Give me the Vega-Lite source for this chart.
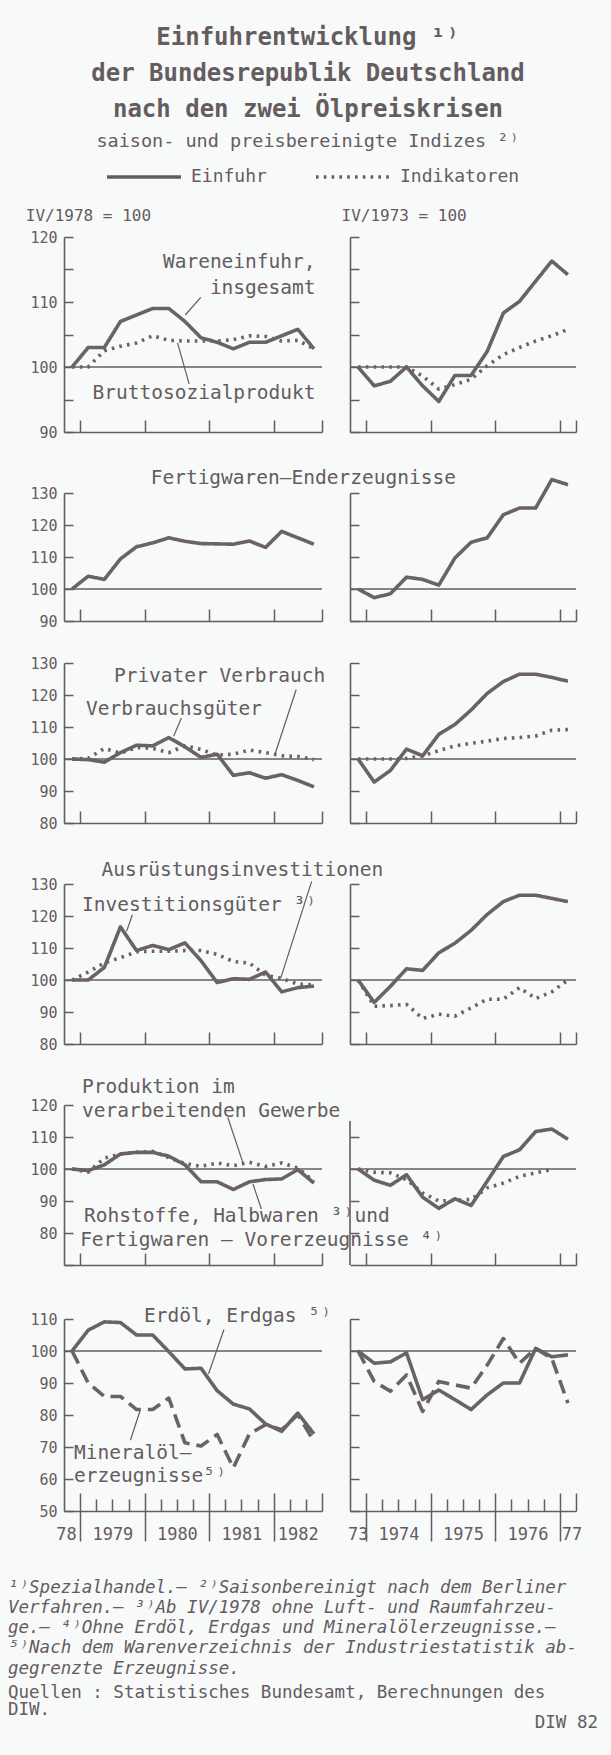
{
"$schema": "https://vega.github.io/schema/vega-lite/v6.json",
"background": "#f8f9f9",
"padding": {"left": 8, "top": 25, "right": 13, "bottom": 16},
"title": {"text": ["Einfuhrentwicklung ¹⁾", "der Bundesrepublik Deutschland", "nach den zwei Ölpreiskrisen"], "subtitle": "saison- und preisbereinigte Indizes ²⁾", "anchor": "middle", "dx": 5, "font": "DejaVu Sans Mono", "fontSize": 24, "fontWeight": "bold", "color": "#645c5f", "lineHeight": 36, "subtitleFont": "DejaVu Sans Mono", "subtitleFontSize": 18.5, "subtitleColor": "#645c5f", "subtitlePadding": 10, "offset": -12},
"datasets": {
"p1l": [
{"zeit":1978.875,"wert":100,"reihe":"Einfuhr"},{"zeit":1979.125,"wert":103,"reihe":"Einfuhr"},{"zeit":1979.375,"wert":103,"reihe":"Einfuhr"},{"zeit":1979.625,"wert":107,"reihe":"Einfuhr"},{"zeit":1979.875,"wert":108,"reihe":"Einfuhr"},{"zeit":1980.125,"wert":109,"reihe":"Einfuhr"},{"zeit":1980.375,"wert":109,"reihe":"Einfuhr"},{"zeit":1980.625,"wert":107,"reihe":"Einfuhr"},{"zeit":1980.875,"wert":104.5,"reihe":"Einfuhr"},{"zeit":1981.125,"wert":103.8,"reihe":"Einfuhr"},{"zeit":1981.375,"wert":102.8,"reihe":"Einfuhr"},{"zeit":1981.625,"wert":103.8,"reihe":"Einfuhr"},{"zeit":1981.875,"wert":103.8,"reihe":"Einfuhr"},{"zeit":1982.125,"wert":104.8,"reihe":"Einfuhr"},{"zeit":1982.375,"wert":105.8,"reihe":"Einfuhr"},{"zeit":1982.625,"wert":102.8,"reihe":"Einfuhr"},
{"zeit":1978.875,"wert":100,"reihe":"Indikatoren"},{"zeit":1979.125,"wert":100,"reihe":"Indikatoren"},{"zeit":1979.375,"wert":102.5,"reihe":"Indikatoren"},{"zeit":1979.625,"wert":103.2,"reihe":"Indikatoren"},{"zeit":1979.875,"wert":103.7,"reihe":"Indikatoren"},{"zeit":1980.125,"wert":104.8,"reihe":"Indikatoren"},{"zeit":1980.375,"wert":104.1,"reihe":"Indikatoren"},{"zeit":1980.625,"wert":104,"reihe":"Indikatoren"},{"zeit":1980.875,"wert":104,"reihe":"Indikatoren"},{"zeit":1981.125,"wert":104,"reihe":"Indikatoren"},{"zeit":1981.375,"wert":104.2,"reihe":"Indikatoren"},{"zeit":1981.625,"wert":104.8,"reihe":"Indikatoren"},{"zeit":1981.875,"wert":104.7,"reihe":"Indikatoren"},{"zeit":1982.125,"wert":104,"reihe":"Indikatoren"},{"zeit":1982.375,"wert":104.1,"reihe":"Indikatoren"},{"zeit":1982.625,"wert":102.8,"reihe":"Indikatoren"}],
"p1r": [
{"zeit":1973.875,"wert":100,"reihe":"Einfuhr"},{"zeit":1974.125,"wert":97.1,"reihe":"Einfuhr"},{"zeit":1974.375,"wert":97.8,"reihe":"Einfuhr"},{"zeit":1974.625,"wert":100,"reihe":"Einfuhr"},{"zeit":1974.875,"wert":97.1,"reihe":"Einfuhr"},{"zeit":1975.125,"wert":94.7,"reihe":"Einfuhr"},{"zeit":1975.375,"wert":98.7,"reihe":"Einfuhr"},{"zeit":1975.625,"wert":98.7,"reihe":"Einfuhr"},{"zeit":1975.875,"wert":102.4,"reihe":"Einfuhr"},{"zeit":1976.125,"wert":108.3,"reihe":"Einfuhr"},{"zeit":1976.375,"wert":110.1,"reihe":"Einfuhr"},{"zeit":1976.625,"wert":113.2,"reihe":"Einfuhr"},{"zeit":1976.875,"wert":116.3,"reihe":"Einfuhr"},{"zeit":1977.125,"wert":114.2,"reihe":"Einfuhr"},
{"zeit":1973.875,"wert":100,"reihe":"Indikatoren"},{"zeit":1974.125,"wert":100,"reihe":"Indikatoren"},{"zeit":1974.375,"wert":100,"reihe":"Indikatoren"},{"zeit":1974.625,"wert":100,"reihe":"Indikatoren"},{"zeit":1974.875,"wert":98.6,"reihe":"Indikatoren"},{"zeit":1975.125,"wert":96.6,"reihe":"Indikatoren"},{"zeit":1975.375,"wert":97.3,"reihe":"Indikatoren"},{"zeit":1975.625,"wert":98.1,"reihe":"Indikatoren"},{"zeit":1975.875,"wert":100.2,"reihe":"Indikatoren"},{"zeit":1976.125,"wert":101.9,"reihe":"Indikatoren"},{"zeit":1976.375,"wert":103,"reihe":"Indikatoren"},{"zeit":1976.625,"wert":104,"reihe":"Indikatoren"},{"zeit":1976.875,"wert":104.8,"reihe":"Indikatoren"},{"zeit":1977.125,"wert":105.8,"reihe":"Indikatoren"}],
"p2l": [
{"zeit":1978.875,"wert":100,"reihe":"Einfuhr"},{"zeit":1979.125,"wert":104,"reihe":"Einfuhr"},{"zeit":1979.375,"wert":103,"reihe":"Einfuhr"},{"zeit":1979.625,"wert":109.4,"reihe":"Einfuhr"},{"zeit":1979.875,"wert":113.2,"reihe":"Einfuhr"},{"zeit":1980.125,"wert":114.4,"reihe":"Einfuhr"},{"zeit":1980.375,"wert":116,"reihe":"Einfuhr"},{"zeit":1980.625,"wert":114.9,"reihe":"Einfuhr"},{"zeit":1980.875,"wert":114.2,"reihe":"Einfuhr"},{"zeit":1981.125,"wert":114.1,"reihe":"Einfuhr"},{"zeit":1981.375,"wert":114,"reihe":"Einfuhr"},{"zeit":1981.625,"wert":115,"reihe":"Einfuhr"},{"zeit":1981.875,"wert":113,"reihe":"Einfuhr"},{"zeit":1982.125,"wert":118,"reihe":"Einfuhr"},{"zeit":1982.375,"wert":116,"reihe":"Einfuhr"},{"zeit":1982.625,"wert":114,"reihe":"Einfuhr"}],
"p2r": [
{"zeit":1973.875,"wert":100,"reihe":"Einfuhr"},{"zeit":1974.125,"wert":97.3,"reihe":"Einfuhr"},{"zeit":1974.375,"wert":98.5,"reihe":"Einfuhr"},{"zeit":1974.625,"wert":103.7,"reihe":"Einfuhr"},{"zeit":1974.875,"wert":103,"reihe":"Einfuhr"},{"zeit":1975.125,"wert":101.2,"reihe":"Einfuhr"},{"zeit":1975.375,"wert":109.7,"reihe":"Einfuhr"},{"zeit":1975.625,"wert":114.6,"reihe":"Einfuhr"},{"zeit":1975.875,"wert":116,"reihe":"Einfuhr"},{"zeit":1976.125,"wert":123.2,"reihe":"Einfuhr"},{"zeit":1976.375,"wert":125.3,"reihe":"Einfuhr"},{"zeit":1976.625,"wert":125.3,"reihe":"Einfuhr"},{"zeit":1976.875,"wert":134.2,"reihe":"Einfuhr"},{"zeit":1977.125,"wert":132.6,"reihe":"Einfuhr"}],
"p3l": [
{"zeit":1978.875,"wert":100,"reihe":"Einfuhr"},{"zeit":1979.125,"wert":99.8,"reihe":"Einfuhr"},{"zeit":1979.375,"wert":99,"reihe":"Einfuhr"},{"zeit":1979.625,"wert":102,"reihe":"Einfuhr"},{"zeit":1979.875,"wert":104.3,"reihe":"Einfuhr"},{"zeit":1980.125,"wert":104.1,"reihe":"Einfuhr"},{"zeit":1980.375,"wert":106.7,"reihe":"Einfuhr"},{"zeit":1980.625,"wert":103.8,"reihe":"Einfuhr"},{"zeit":1980.875,"wert":100.5,"reihe":"Einfuhr"},{"zeit":1981.125,"wert":101.5,"reihe":"Einfuhr"},{"zeit":1981.375,"wert":94.9,"reihe":"Einfuhr"},{"zeit":1981.625,"wert":95.7,"reihe":"Einfuhr"},{"zeit":1981.875,"wert":94,"reihe":"Einfuhr"},{"zeit":1982.125,"wert":95.1,"reihe":"Einfuhr"},{"zeit":1982.375,"wert":93.3,"reihe":"Einfuhr"},{"zeit":1982.625,"wert":91.3,"reihe":"Einfuhr"},
{"zeit":1978.875,"wert":100,"reihe":"Indikatoren"},{"zeit":1979.125,"wert":100.2,"reihe":"Indikatoren"},{"zeit":1979.375,"wert":103.3,"reihe":"Indikatoren"},{"zeit":1979.625,"wert":101.8,"reihe":"Indikatoren"},{"zeit":1979.875,"wert":103.6,"reihe":"Indikatoren"},{"zeit":1980.125,"wert":103.3,"reihe":"Indikatoren"},{"zeit":1980.375,"wert":102,"reihe":"Indikatoren"},{"zeit":1980.625,"wert":104.1,"reihe":"Indikatoren"},{"zeit":1980.875,"wert":103,"reihe":"Indikatoren"},{"zeit":1981.125,"wert":101.2,"reihe":"Indikatoren"},{"zeit":1981.375,"wert":101.5,"reihe":"Indikatoren"},{"zeit":1981.625,"wert":102.8,"reihe":"Indikatoren"},{"zeit":1981.875,"wert":102,"reihe":"Indikatoren"},{"zeit":1982.125,"wert":101,"reihe":"Indikatoren"},{"zeit":1982.375,"wert":100.8,"reihe":"Indikatoren"},{"zeit":1982.625,"wert":99.8,"reihe":"Indikatoren"}],
"p3r": [
{"zeit":1973.875,"wert":100,"reihe":"Einfuhr"},{"zeit":1974.125,"wert":92.8,"reihe":"Einfuhr"},{"zeit":1974.375,"wert":96.4,"reihe":"Einfuhr"},{"zeit":1974.625,"wert":103.1,"reihe":"Einfuhr"},{"zeit":1974.875,"wert":101,"reihe":"Einfuhr"},{"zeit":1975.125,"wert":107.7,"reihe":"Einfuhr"},{"zeit":1975.375,"wert":110.8,"reihe":"Einfuhr"},{"zeit":1975.625,"wert":115.3,"reihe":"Einfuhr"},{"zeit":1975.875,"wert":120.5,"reihe":"Einfuhr"},{"zeit":1976.125,"wert":124.2,"reihe":"Einfuhr"},{"zeit":1976.375,"wert":126.5,"reihe":"Einfuhr"},{"zeit":1976.625,"wert":126.5,"reihe":"Einfuhr"},{"zeit":1976.875,"wert":125.5,"reihe":"Einfuhr"},{"zeit":1977.125,"wert":124.3,"reihe":"Einfuhr"},
{"zeit":1973.875,"wert":100,"reihe":"Indikatoren"},{"zeit":1974.125,"wert":100,"reihe":"Indikatoren"},{"zeit":1974.375,"wert":100,"reihe":"Indikatoren"},{"zeit":1974.625,"wert":100.2,"reihe":"Indikatoren"},{"zeit":1974.875,"wert":101,"reihe":"Indikatoren"},{"zeit":1975.125,"wert":102.6,"reihe":"Indikatoren"},{"zeit":1975.375,"wert":104.1,"reihe":"Indikatoren"},{"zeit":1975.625,"wert":104.9,"reihe":"Indikatoren"},{"zeit":1975.875,"wert":105.6,"reihe":"Indikatoren"},{"zeit":1976.125,"wert":106.4,"reihe":"Indikatoren"},{"zeit":1976.375,"wert":106.7,"reihe":"Indikatoren"},{"zeit":1976.625,"wert":107.2,"reihe":"Indikatoren"},{"zeit":1976.875,"wert":109,"reihe":"Indikatoren"},{"zeit":1977.125,"wert":109.2,"reihe":"Indikatoren"}],
"p4l": [
{"zeit":1978.875,"wert":100,"reihe":"Einfuhr"},{"zeit":1979.125,"wert":100,"reihe":"Einfuhr"},{"zeit":1979.375,"wert":103.9,"reihe":"Einfuhr"},{"zeit":1979.625,"wert":116.6,"reihe":"Einfuhr"},{"zeit":1979.875,"wert":109.2,"reihe":"Einfuhr"},{"zeit":1980.125,"wert":110.8,"reihe":"Einfuhr"},{"zeit":1980.375,"wert":109.5,"reihe":"Einfuhr"},{"zeit":1980.625,"wert":111.6,"reihe":"Einfuhr"},{"zeit":1980.875,"wert":106,"reihe":"Einfuhr"},{"zeit":1981.125,"wert":99.2,"reihe":"Einfuhr"},{"zeit":1981.375,"wert":100.4,"reihe":"Einfuhr"},{"zeit":1981.625,"wert":100.2,"reihe":"Einfuhr"},{"zeit":1981.875,"wert":102.5,"reihe":"Einfuhr"},{"zeit":1982.125,"wert":96.3,"reihe":"Einfuhr"},{"zeit":1982.375,"wert":97.6,"reihe":"Einfuhr"},{"zeit":1982.625,"wert":98.1,"reihe":"Einfuhr"},
{"zeit":1978.875,"wert":100,"reihe":"Indikatoren"},{"zeit":1979.125,"wert":102.5,"reihe":"Indikatoren"},{"zeit":1979.375,"wert":105.3,"reihe":"Indikatoren"},{"zeit":1979.625,"wert":107,"reihe":"Indikatoren"},{"zeit":1979.875,"wert":108.8,"reihe":"Indikatoren"},{"zeit":1980.125,"wert":109,"reihe":"Indikatoren"},{"zeit":1980.375,"wert":109,"reihe":"Indikatoren"},{"zeit":1980.625,"wert":109.2,"reihe":"Indikatoren"},{"zeit":1980.875,"wert":109.2,"reihe":"Indikatoren"},{"zeit":1981.125,"wert":108,"reihe":"Indikatoren"},{"zeit":1981.375,"wert":105.8,"reihe":"Indikatoren"},{"zeit":1981.625,"wert":105.3,"reihe":"Indikatoren"},{"zeit":1981.875,"wert":101.5,"reihe":"Indikatoren"},{"zeit":1982.125,"wert":100.5,"reihe":"Indikatoren"},{"zeit":1982.375,"wert":98.7,"reihe":"Indikatoren"},{"zeit":1982.625,"wert":98.5,"reihe":"Indikatoren"}],
"p4r": [
{"zeit":1973.875,"wert":100,"reihe":"Einfuhr"},{"zeit":1974.125,"wert":93,"reihe":"Einfuhr"},{"zeit":1974.375,"wert":98,"reihe":"Einfuhr"},{"zeit":1974.625,"wert":103.5,"reihe":"Einfuhr"},{"zeit":1974.875,"wert":103,"reihe":"Einfuhr"},{"zeit":1975.125,"wert":108.5,"reihe":"Einfuhr"},{"zeit":1975.375,"wert":111.5,"reihe":"Einfuhr"},{"zeit":1975.625,"wert":115.5,"reihe":"Einfuhr"},{"zeit":1975.875,"wert":120.5,"reihe":"Einfuhr"},{"zeit":1976.125,"wert":124.5,"reihe":"Einfuhr"},{"zeit":1976.375,"wert":126.5,"reihe":"Einfuhr"},{"zeit":1976.625,"wert":126.5,"reihe":"Einfuhr"},{"zeit":1976.875,"wert":125.5,"reihe":"Einfuhr"},{"zeit":1977.125,"wert":124.5,"reihe":"Einfuhr"},
{"zeit":1973.875,"wert":100,"reihe":"Indikatoren"},{"zeit":1974.125,"wert":91.8,"reihe":"Indikatoren"},{"zeit":1974.375,"wert":92,"reihe":"Indikatoren"},{"zeit":1974.625,"wert":92.4,"reihe":"Indikatoren"},{"zeit":1974.875,"wert":88,"reihe":"Indikatoren"},{"zeit":1975.125,"wert":89.3,"reihe":"Indikatoren"},{"zeit":1975.375,"wert":88.7,"reihe":"Indikatoren"},{"zeit":1975.625,"wert":91.3,"reihe":"Indikatoren"},{"zeit":1975.875,"wert":94,"reihe":"Indikatoren"},{"zeit":1976.125,"wert":94,"reihe":"Indikatoren"},{"zeit":1976.375,"wert":97.6,"reihe":"Indikatoren"},{"zeit":1976.625,"wert":94.2,"reihe":"Indikatoren"},{"zeit":1976.875,"wert":96.3,"reihe":"Indikatoren"},{"zeit":1977.125,"wert":100,"reihe":"Indikatoren"}],
"p5l": [
{"zeit":1978.875,"wert":100,"reihe":"Einfuhr"},{"zeit":1979.125,"wert":99.5,"reihe":"Einfuhr"},{"zeit":1979.375,"wert":101.3,"reihe":"Einfuhr"},{"zeit":1979.625,"wert":104.7,"reihe":"Einfuhr"},{"zeit":1979.875,"wert":105.2,"reihe":"Einfuhr"},{"zeit":1980.125,"wert":105.2,"reihe":"Einfuhr"},{"zeit":1980.375,"wert":104,"reihe":"Einfuhr"},{"zeit":1980.625,"wert":101.3,"reihe":"Einfuhr"},{"zeit":1980.875,"wert":96,"reihe":"Einfuhr"},{"zeit":1981.125,"wert":96,"reihe":"Einfuhr"},{"zeit":1981.375,"wert":93.6,"reihe":"Einfuhr"},{"zeit":1981.625,"wert":96,"reihe":"Einfuhr"},{"zeit":1981.875,"wert":96.7,"reihe":"Einfuhr"},{"zeit":1982.125,"wert":96.9,"reihe":"Einfuhr"},{"zeit":1982.375,"wert":99.8,"reihe":"Einfuhr"},{"zeit":1982.625,"wert":95.6,"reihe":"Einfuhr"},
{"zeit":1978.875,"wert":100,"reihe":"Indikatoren"},{"zeit":1979.125,"wert":99,"reihe":"Indikatoren"},{"zeit":1979.375,"wert":103.4,"reihe":"Indikatoren"},{"zeit":1979.625,"wert":104.7,"reihe":"Indikatoren"},{"zeit":1979.875,"wert":105.2,"reihe":"Indikatoren"},{"zeit":1980.125,"wert":105.5,"reihe":"Indikatoren"},{"zeit":1980.375,"wert":103.6,"reihe":"Indikatoren"},{"zeit":1980.625,"wert":101.7,"reihe":"Indikatoren"},{"zeit":1980.875,"wert":100.8,"reihe":"Indikatoren"},{"zeit":1981.125,"wert":101.9,"reihe":"Indikatoren"},{"zeit":1981.375,"wert":101,"reihe":"Indikatoren"},{"zeit":1981.625,"wert":102.1,"reihe":"Indikatoren"},{"zeit":1981.875,"wert":100.8,"reihe":"Indikatoren"},{"zeit":1982.125,"wert":101.9,"reihe":"Indikatoren"},{"zeit":1982.375,"wert":100.3,"reihe":"Indikatoren"},{"zeit":1982.625,"wert":96.2,"reihe":"Indikatoren"}],
"p5r": [
{"zeit":1973.875,"wert":100,"reihe":"Einfuhr"},{"zeit":1974.125,"wert":96.5,"reihe":"Einfuhr"},{"zeit":1974.375,"wert":94.9,"reihe":"Einfuhr"},{"zeit":1974.625,"wert":98.2,"reihe":"Einfuhr"},{"zeit":1974.875,"wert":91.2,"reihe":"Einfuhr"},{"zeit":1975.125,"wert":87.7,"reihe":"Einfuhr"},{"zeit":1975.375,"wert":90.7,"reihe":"Einfuhr"},{"zeit":1975.625,"wert":88.6,"reihe":"Einfuhr"},{"zeit":1975.875,"wert":96.2,"reihe":"Einfuhr"},{"zeit":1976.125,"wert":103.9,"reihe":"Einfuhr"},{"zeit":1976.375,"wert":106,"reihe":"Einfuhr"},{"zeit":1976.625,"wert":111.7,"reihe":"Einfuhr"},{"zeit":1976.875,"wert":112.5,"reihe":"Einfuhr"},{"zeit":1977.125,"wert":109.3,"reihe":"Einfuhr"},
{"zeit":1973.875,"wert":100,"reihe":"Indikatoren"},{"zeit":1974.125,"wert":99,"reihe":"Indikatoren"},{"zeit":1974.375,"wert":98.8,"reihe":"Indikatoren"},{"zeit":1974.625,"wert":96.7,"reihe":"Indikatoren"},{"zeit":1974.875,"wert":92.5,"reihe":"Indikatoren"},{"zeit":1975.125,"wert":90,"reihe":"Indikatoren"},{"zeit":1975.375,"wert":90.2,"reihe":"Indikatoren"},{"zeit":1975.625,"wert":90.5,"reihe":"Indikatoren"},{"zeit":1975.875,"wert":94.1,"reihe":"Indikatoren"},{"zeit":1976.125,"wert":95.6,"reihe":"Indikatoren"},{"zeit":1976.375,"wert":97.7,"reihe":"Indikatoren"},{"zeit":1976.625,"wert":98.8,"reihe":"Indikatoren"},{"zeit":1976.875,"wert":99.8,"reihe":"Indikatoren"}],
"p6l": [
{"zeit":1978.875,"wert":100,"reihe":"Einfuhr","serie":"Erdöl, Erdgas"},{"zeit":1979.125,"wert":106.5,"reihe":"Einfuhr","serie":"Erdöl, Erdgas"},{"zeit":1979.375,"wert":109.1,"reihe":"Einfuhr","serie":"Erdöl, Erdgas"},{"zeit":1979.625,"wert":108.9,"reihe":"Einfuhr","serie":"Erdöl, Erdgas"},{"zeit":1979.875,"wert":105,"reihe":"Einfuhr","serie":"Erdöl, Erdgas"},{"zeit":1980.125,"wert":105,"reihe":"Einfuhr","serie":"Erdöl, Erdgas"},{"zeit":1980.375,"wert":99.8,"reihe":"Einfuhr","serie":"Erdöl, Erdgas"},{"zeit":1980.625,"wert":94.4,"reihe":"Einfuhr","serie":"Erdöl, Erdgas"},{"zeit":1980.875,"wert":94.6,"reihe":"Einfuhr","serie":"Erdöl, Erdgas"},{"zeit":1981.125,"wert":87.6,"reihe":"Einfuhr","serie":"Erdöl, Erdgas"},{"zeit":1981.375,"wert":83.4,"reihe":"Einfuhr","serie":"Erdöl, Erdgas"},{"zeit":1981.625,"wert":81.9,"reihe":"Einfuhr","serie":"Erdöl, Erdgas"},{"zeit":1981.875,"wert":77.2,"reihe":"Einfuhr","serie":"Erdöl, Erdgas"},{"zeit":1982.125,"wert":74.9,"reihe":"Einfuhr","serie":"Erdöl, Erdgas"},{"zeit":1982.375,"wert":80.6,"reihe":"Einfuhr","serie":"Erdöl, Erdgas"},{"zeit":1982.625,"wert":74.1,"reihe":"Einfuhr","serie":"Erdöl, Erdgas"},
{"zeit":1978.875,"wert":100,"reihe":"Einfuhr","serie":"Mineralölerzeugnisse"},{"zeit":1979.125,"wert":90,"reihe":"Einfuhr","serie":"Mineralölerzeugnisse"},{"zeit":1979.375,"wert":85.8,"reihe":"Einfuhr","serie":"Mineralölerzeugnisse"},{"zeit":1979.625,"wert":85.8,"reihe":"Einfuhr","serie":"Mineralölerzeugnisse"},{"zeit":1979.875,"wert":81.7,"reihe":"Einfuhr","serie":"Mineralölerzeugnisse"},{"zeit":1980.125,"wert":81.7,"reihe":"Einfuhr","serie":"Mineralölerzeugnisse"},{"zeit":1980.375,"wert":85.3,"reihe":"Einfuhr","serie":"Mineralölerzeugnisse"},{"zeit":1980.625,"wert":71.3,"reihe":"Einfuhr","serie":"Mineralölerzeugnisse"},{"zeit":1980.875,"wert":70.3,"reihe":"Einfuhr","serie":"Mineralölerzeugnisse"},{"zeit":1981.125,"wert":73.9,"reihe":"Einfuhr","serie":"Mineralölerzeugnisse"},{"zeit":1981.375,"wert":63.5,"reihe":"Einfuhr","serie":"Mineralölerzeugnisse"},{"zeit":1981.625,"wert":74.1,"reihe":"Einfuhr","serie":"Mineralölerzeugnisse"},{"zeit":1981.875,"wert":77,"reihe":"Einfuhr","serie":"Mineralölerzeugnisse"},{"zeit":1982.125,"wert":75.4,"reihe":"Einfuhr","serie":"Mineralölerzeugnisse"},{"zeit":1982.375,"wert":80.1,"reihe":"Einfuhr","serie":"Mineralölerzeugnisse"},{"zeit":1982.625,"wert":71.8,"reihe":"Einfuhr","serie":"Mineralölerzeugnisse"}],
"p6r": [
{"zeit":1973.875,"wert":100,"reihe":"Einfuhr","serie":"Erdöl, Erdgas"},{"zeit":1974.125,"wert":96.2,"reihe":"Einfuhr","serie":"Erdöl, Erdgas"},{"zeit":1974.375,"wert":96.6,"reihe":"Einfuhr","serie":"Erdöl, Erdgas"},{"zeit":1974.625,"wert":99.4,"reihe":"Einfuhr","serie":"Erdöl, Erdgas"},{"zeit":1974.875,"wert":84.8,"reihe":"Einfuhr","serie":"Erdöl, Erdgas"},{"zeit":1975.125,"wert":87.8,"reihe":"Einfuhr","serie":"Erdöl, Erdgas"},{"zeit":1975.375,"wert":84.8,"reihe":"Einfuhr","serie":"Erdöl, Erdgas"},{"zeit":1975.625,"wert":81.7,"reihe":"Einfuhr","serie":"Erdöl, Erdgas"},{"zeit":1975.875,"wert":86.3,"reihe":"Einfuhr","serie":"Erdöl, Erdgas"},{"zeit":1976.125,"wert":90,"reihe":"Einfuhr","serie":"Erdöl, Erdgas"},{"zeit":1976.375,"wert":90,"reihe":"Einfuhr","serie":"Erdöl, Erdgas"},{"zeit":1976.625,"wert":100.8,"reihe":"Einfuhr","serie":"Erdöl, Erdgas"},{"zeit":1976.875,"wert":98.2,"reihe":"Einfuhr","serie":"Erdöl, Erdgas"},{"zeit":1977.125,"wert":98.8,"reihe":"Einfuhr","serie":"Erdöl, Erdgas"},
{"zeit":1973.875,"wert":100,"reihe":"Einfuhr","serie":"Mineralölerzeugnisse"},{"zeit":1974.125,"wert":90.5,"reihe":"Einfuhr","serie":"Mineralölerzeugnisse"},{"zeit":1974.375,"wert":87.4,"reihe":"Einfuhr","serie":"Mineralölerzeugnisse"},{"zeit":1974.625,"wert":92.5,"reihe":"Einfuhr","serie":"Mineralölerzeugnisse"},{"zeit":1974.875,"wert":81.1,"reihe":"Einfuhr","serie":"Mineralölerzeugnisse"},{"zeit":1975.125,"wert":90.5,"reihe":"Einfuhr","serie":"Mineralölerzeugnisse"},{"zeit":1975.375,"wert":89.4,"reihe":"Einfuhr","serie":"Mineralölerzeugnisse"},{"zeit":1975.625,"wert":88.4,"reihe":"Einfuhr","serie":"Mineralölerzeugnisse"},{"zeit":1975.875,"wert":95.6,"reihe":"Einfuhr","serie":"Mineralölerzeugnisse"},{"zeit":1976.125,"wert":103.9,"reihe":"Einfuhr","serie":"Mineralölerzeugnisse"},{"zeit":1976.375,"wert":96.2,"reihe":"Einfuhr","serie":"Mineralölerzeugnisse"},{"zeit":1976.625,"wert":100.8,"reihe":"Einfuhr","serie":"Mineralölerzeugnisse"},{"zeit":1976.875,"wert":97.7,"reihe":"Einfuhr","serie":"Mineralölerzeugnisse"},{"zeit":1977.125,"wert":83.7,"reihe":"Einfuhr","serie":"Mineralölerzeugnisse"}]
},
"columns": 3,
"bounds": "flush",
"spacing": {"row": 0, "column": 28},
"concat": [
 {"width": 28, "height": 256, "data": {"values": []}, "mark": "point"},
 {"width": 258, "height": 195, "layer": [
  {"data": {"values": [{}]}, "mark": "rule", "encoding": {"y": {"datum": 100}}},
  {"data": {"name": "p1l"}, "mark": "line", "encoding": {
    "x": {"field": "zeit", "type": "quantitative", "scale": {"domain": [1978.75, 1982.75], "nice": false, "zero": false}, "axis": {"values": [1979, 1980, 1981, 1982, 1982.75], "tickCount": 40, "labels": false, "tickSize": -12, "title": null}},
    "y": {"field": "wert", "type": "quantitative", "scale": {"domain": [90, 120], "nice": false, "zero": false}, "axis": {"values": [90, 95, 100, 105, 110, 115, 120], "tickCount": 40, "labelExpr": "datum.value % 10 === 0 ? datum.label : ''", "labelOverlap": false, "tickSize": -9, "labelPadding": 16, "title": "IV/1978 = 100", "titleAngle": 0, "titleAlign": "left", "titleBaseline": "middle", "titleX": -38.7, "titleY": -21.7}},
    "strokeDash": {"field": "reihe", "type": "nominal", "scale": {"domain": ["Einfuhr", "Indikatoren"], "range": [[1, 0], [2.6, 5.2]]},
      "legend": {"title": null, "orient": "none", "legendX": 97, "legendY": -99, "direction": "horizontal", "symbolType": "stroke", "symbolSize": 5476, "symbolStrokeWidth": 3.6, "symbolStrokeColor": "#645c5f", "labelFont": "DejaVu Sans Mono", "labelFontSize": 18, "labelColor": "#645c5f", "labelOffset": 8, "labelLimit": 300, "columnPadding": 47, "padding": 0, "symbolOffset": 0}}
  }},
  {"data": {"values": [{}]}, "mark": {"type": "text", "align": "right", "text": "Wareneinfuhr,"}, "encoding": {"x": {"datum": 1982.65}, "y": {"datum": 116.1}}},
  {"data": {"values": [{}]}, "mark": {"type": "text", "align": "right", "text": "insgesamt"}, "encoding": {"x": {"datum": 1982.65}, "y": {"datum": 112.1}}},
  {"data": {"values": [{}]}, "mark": {"type": "text", "align": "right", "text": "Bruttosozialprodukt"}, "encoding": {"x": {"datum": 1982.65}, "y": {"datum": 96.0}}},
  {"data": {"values": [{}]}, "mark": {"type": "rule", "strokeWidth": 1.2}, "encoding": {"x": {"datum": 1980.87}, "y": {"datum": 110.7}, "x2": {"datum": 1980.63}, "y2": {"datum": 108.0}}},
  {"data": {"values": [{}]}, "mark": {"type": "rule", "strokeWidth": 1.2}, "encoding": {"x": {"datum": 1980.51}, "y": {"datum": 103.7}, "x2": {"datum": 1980.69}, "y2": {"datum": 97.4}}}
 ]},
 {"width": 226, "height": 195, "layer": [
  {"data": {"values": [{}]}, "mark": "rule", "encoding": {"y": {"datum": 100}}},
  {"data": {"name": "p1r"}, "mark": "line", "encoding": {
    "x": {"field": "zeit", "type": "quantitative", "scale": {"domain": [1973.75, 1977.25], "nice": false, "zero": false}, "axis": {"values": [1974, 1975, 1976, 1977, 1977.25], "tickCount": 40, "labels": false, "tickSize": -12, "title": null}},
    "y": {"field": "wert", "type": "quantitative", "scale": {"domain": [90, 120], "nice": false, "zero": false}, "axis": {"values": [90, 95, 100, 105, 110, 115, 120], "tickCount": 40, "labels": false, "tickSize": -9, "title": "IV/1973 = 100", "titleAngle": 0, "titleAlign": "left", "titleBaseline": "middle", "titleX": -9, "titleY": -21.7}},
    "strokeDash": {"field": "reihe", "type": "nominal", "scale": {"domain": ["Einfuhr", "Indikatoren"], "range": [[1, 0], [2.6, 5.2]]}}
  }}
 ]},
 {"width": 28, "height": 170, "data": {"values": []}, "mark": "point"},
 {"width": 258, "height": 128, "layer": [
  {"data": {"values": [{}]}, "mark": "rule", "encoding": {"y": {"datum": 100}}},
  {"data": {"name": "p2l"}, "mark": "line", "encoding": {
    "x": {"field": "zeit", "type": "quantitative", "scale": {"domain": [1978.75, 1982.75], "nice": false, "zero": false}, "axis": {"values": [1979, 1980, 1981, 1982, 1982.75], "tickCount": 40, "labels": false, "tickSize": -12, "title": null}},
    "y": {"field": "wert", "type": "quantitative", "scale": {"domain": [90, 130], "nice": false, "zero": false}, "axis": {"values": [90, 100, 110, 120, 130], "tickCount": 40, "labelOverlap": false, "tickSize": -9, "labelPadding": 16, "title": null}},
    "strokeDash": {"field": "reihe", "type": "nominal", "scale": {"domain": ["Einfuhr", "Indikatoren"], "range": [[1, 0], [2.6, 5.2]]}}
  }},
  {"data": {"values": [{}]}, "mark": {"type": "text", "align": "center", "text": "Fertigwaren–Enderzeugnisse"}, "encoding": {"x": {"datum": 1982.46}, "y": {"datum": 134.7}}}
 ]},
 {"width": 226, "height": 128, "layer": [
  {"data": {"values": [{}]}, "mark": "rule", "encoding": {"y": {"datum": 100}}},
  {"data": {"name": "p2r"}, "mark": "line", "encoding": {
    "x": {"field": "zeit", "type": "quantitative", "scale": {"domain": [1973.75, 1977.25], "nice": false, "zero": false}, "axis": {"values": [1974, 1975, 1976, 1977, 1977.25], "tickCount": 40, "labels": false, "tickSize": -12, "title": null}},
    "y": {"field": "wert", "type": "quantitative", "scale": {"domain": [90, 130], "nice": false, "zero": false}, "axis": {"values": [90, 100, 110, 120, 130], "tickCount": 40, "labels": false, "tickSize": -9, "title": null}},
    "strokeDash": {"field": "reihe", "type": "nominal", "scale": {"domain": ["Einfuhr", "Indikatoren"], "range": [[1, 0], [2.6, 5.2]]}}
  }}
 ]},
 {"width": 28, "height": 221, "data": {"values": []}, "mark": "point"},
 {"width": 258, "height": 160, "layer": [
  {"data": {"values": [{}]}, "mark": "rule", "encoding": {"y": {"datum": 100}}},
  {"data": {"name": "p3l"}, "mark": "line", "encoding": {
    "x": {"field": "zeit", "type": "quantitative", "scale": {"domain": [1978.75, 1982.75], "nice": false, "zero": false}, "axis": {"values": [1979, 1980, 1981, 1982, 1982.75], "tickCount": 40, "labels": false, "tickSize": -12, "title": null}},
    "y": {"field": "wert", "type": "quantitative", "scale": {"domain": [80, 130], "nice": false, "zero": false}, "axis": {"values": [80, 90, 100, 110, 120, 130], "tickCount": 40, "labelOverlap": false, "tickSize": -9, "labelPadding": 16, "title": null}},
    "strokeDash": {"field": "reihe", "type": "nominal", "scale": {"domain": ["Einfuhr", "Indikatoren"], "range": [[1, 0], [2.6, 5.2]]}}
  }},
  {"data": {"values": [{}]}, "mark": {"type": "text", "align": "right", "text": "Privater Verbrauch"}, "encoding": {"x": {"datum": 1982.8}, "y": {"datum": 125.8}}},
  {"data": {"values": [{}]}, "mark": {"type": "text", "align": "left", "text": "Verbrauchsgüter"}, "encoding": {"x": {"datum": 1979.09}, "y": {"datum": 115.7}}},
  {"data": {"values": [{}]}, "mark": {"type": "rule", "strokeWidth": 1.2}, "encoding": {"x": {"datum": 1980.57}, "y": {"datum": 112.8}, "x2": {"datum": 1980.45}, "y2": {"datum": 107.1}}},
  {"data": {"values": [{}]}, "mark": {"type": "rule", "strokeWidth": 1.2}, "encoding": {"x": {"datum": 1982.35}, "y": {"datum": 121.7}, "x2": {"datum": 1982.02}, "y2": {"datum": 101.4}}}
 ]},
 {"width": 226, "height": 160, "layer": [
  {"data": {"values": [{}]}, "mark": "rule", "encoding": {"y": {"datum": 100}}},
  {"data": {"name": "p3r"}, "mark": "line", "encoding": {
    "x": {"field": "zeit", "type": "quantitative", "scale": {"domain": [1973.75, 1977.25], "nice": false, "zero": false}, "axis": {"values": [1974, 1975, 1976, 1977, 1977.25], "tickCount": 40, "labels": false, "tickSize": -12, "title": null}},
    "y": {"field": "wert", "type": "quantitative", "scale": {"domain": [80, 130], "nice": false, "zero": false}, "axis": {"values": [80, 90, 100, 110, 120, 130], "tickCount": 40, "labels": false, "tickSize": -9, "title": null}},
    "strokeDash": {"field": "reihe", "type": "nominal", "scale": {"domain": ["Einfuhr", "Indikatoren"], "range": [[1, 0], [2.6, 5.2]]}}
  }}
 ]},
 {"width": 28, "height": 221, "data": {"values": []}, "mark": "point"},
 {"width": 258, "height": 160, "layer": [
  {"data": {"values": [{}]}, "mark": "rule", "encoding": {"y": {"datum": 100}}},
  {"data": {"name": "p4l"}, "mark": "line", "encoding": {
    "x": {"field": "zeit", "type": "quantitative", "scale": {"domain": [1978.75, 1982.75], "nice": false, "zero": false}, "axis": {"values": [1979, 1980, 1981, 1982, 1982.75], "tickCount": 40, "labels": false, "tickSize": -12, "title": null}},
    "y": {"field": "wert", "type": "quantitative", "scale": {"domain": [80, 130], "nice": false, "zero": false}, "axis": {"values": [80, 90, 100, 110, 120, 130], "tickCount": 40, "labelOverlap": false, "tickSize": -9, "labelPadding": 16, "title": null}},
    "strokeDash": {"field": "reihe", "type": "nominal", "scale": {"domain": ["Einfuhr", "Indikatoren"], "range": [[1, 0], [2.6, 5.2]]}}
  }},
  {"data": {"values": [{}]}, "mark": {"type": "text", "align": "left", "text": "Ausrüstungsinvestitionen"}, "encoding": {"x": {"datum": 1979.33}, "y": {"datum": 134.5}}},
  {"data": {"values": [{}]}, "mark": {"type": "text", "align": "left", "text": "Investitionsgüter ³⁾"}, "encoding": {"x": {"datum": 1979.03}, "y": {"datum": 123.3}}},
  {"data": {"values": [{}]}, "mark": {"type": "rule", "strokeWidth": 1.2}, "encoding": {"x": {"datum": 1979.81}, "y": {"datum": 120.4}, "x2": {"datum": 1979.72}, "y2": {"datum": 115.2}}},
  {"data": {"values": [{}]}, "mark": {"type": "rule", "strokeWidth": 1.2}, "encoding": {"x": {"datum": 1982.59}, "y": {"datum": 130.8}, "x2": {"datum": 1982.11}, "y2": {"datum": 100.6}}}
 ]},
 {"width": 226, "height": 160, "layer": [
  {"data": {"values": [{}]}, "mark": "rule", "encoding": {"y": {"datum": 100}}},
  {"data": {"name": "p4r"}, "mark": "line", "encoding": {
    "x": {"field": "zeit", "type": "quantitative", "scale": {"domain": [1973.75, 1977.25], "nice": false, "zero": false}, "axis": {"values": [1974, 1975, 1976, 1977, 1977.25], "tickCount": 40, "labels": false, "tickSize": -12, "title": null}},
    "y": {"field": "wert", "type": "quantitative", "scale": {"domain": [80, 130], "nice": false, "zero": false}, "axis": {"values": [80, 90, 100, 110, 120, 130], "tickCount": 40, "labels": false, "tickSize": -9, "title": null}},
    "strokeDash": {"field": "reihe", "type": "nominal", "scale": {"domain": ["Einfuhr", "Indikatoren"], "range": [[1, 0], [2.6, 5.2]]}}
  }}
 ]},
 {"width": 28, "height": 214, "data": {"values": []}, "mark": "point"},
 {"width": 258, "height": 160, "layer": [
  {"data": {"values": [{}]}, "mark": "rule", "encoding": {"y": {"datum": 100}}},
  {"data": {"name": "p5l"}, "mark": "line", "encoding": {
    "x": {"field": "zeit", "type": "quantitative", "scale": {"domain": [1978.75, 1982.75], "nice": false, "zero": false}, "axis": {"values": [1979, 1980, 1981, 1982, 1982.75], "tickCount": 40, "labels": false, "tickSize": -12, "title": null}},
    "y": {"field": "wert", "type": "quantitative", "scale": {"domain": [70, 120], "nice": false, "zero": false}, "axis": {"values": [70, 80, 90, 100, 110, 120], "tickCount": 40, "labelExpr": "datum.value === 70 ? '' : datum.label", "labelOverlap": false, "tickSize": -9, "labelPadding": 16, "title": null}},
    "strokeDash": {"field": "reihe", "type": "nominal", "scale": {"domain": ["Einfuhr", "Indikatoren"], "range": [[1, 0], [2.6, 5.2]]}}
  }},
  {"data": {"values": [{}]}, "mark": {"type": "text", "align": "left", "text": "Produktion im"}, "encoding": {"x": {"datum": 1979.03}, "y": {"datum": 125.5}}},
  {"data": {"values": [{}]}, "mark": {"type": "text", "align": "left", "text": "verarbeitenden Gewerbe"}, "encoding": {"x": {"datum": 1979.03}, "y": {"datum": 118.0}}},
  {"data": {"values": [{}]}, "mark": {"type": "rule", "strokeWidth": 1.2}, "encoding": {"x": {"datum": 1981.29}, "y": {"datum": 116.1}, "x2": {"datum": 1981.53}, "y2": {"datum": 101.6}}},
  {"data": {"values": [{}]}, "mark": {"type": "text", "align": "left", "text": "Rohstoffe, Halbwaren ³⁾"}, "encoding": {"x": {"datum": 1979.06}, "y": {"datum": 85.4}}},
  {"data": {"values": [{}]}, "mark": {"type": "text", "align": "left", "text": "Fertigwaren – Vorerzeugnisse ⁴⁾"}, "encoding": {"x": {"datum": 1979.0}, "y": {"datum": 77.8}}},
  {"data": {"values": [{}]}, "mark": {"type": "rule", "strokeWidth": 1.2}, "encoding": {"x": {"datum": 1981.68}, "y": {"datum": 95.3}, "x2": {"datum": 1981.81}, "y2": {"datum": 87.5}}}
 ]},
 {"width": 226, "height": 160, "layer": [
  {"data": {"values": [{}]}, "mark": "rule", "encoding": {"y": {"datum": 100}}},
  {"data": {"name": "p5r"}, "mark": "line", "encoding": {
    "x": {"field": "zeit", "type": "quantitative", "scale": {"domain": [1973.75, 1977.25], "nice": false, "zero": false}, "axis": {"values": [1974, 1975, 1976, 1977, 1977.25], "tickCount": 40, "labels": false, "tickSize": -12, "title": null}},
    "y": {"field": "wert", "type": "quantitative", "scale": {"domain": [70, 120], "nice": false, "zero": false}, "axis": {"values": [80, 90, 100, 110], "tickCount": 40, "labels": false, "domain": false, "tickSize": -9, "title": null}},
    "strokeDash": {"field": "reihe", "type": "nominal", "scale": {"domain": ["Einfuhr", "Indikatoren"], "range": [[1, 0], [2.6, 5.2]]}}
  }},
  {"data": {"values": [{}]}, "mark": {"type": "rule", "strokeWidth": 1.6}, "encoding": {"x": {"datum": 1973.75}, "y": {"datum": 70}, "y2": {"datum": 115}}},
  {"data": {"values": [{}]}, "mark": {"type": "text", "align": "left", "text": "und"}, "encoding": {"x": {"datum": 1973.82}, "y": {"datum": 85.4}}}
 ]},
 {"width": 28, "height": 260, "data": {"values": []}, "mark": "point"},
 {"width": 258, "height": 192, "resolve": {"axis": {"x": "independent"}}, "layer": [
  {"data": {"values": [{}]}, "mark": "rule", "encoding": {"y": {"datum": 100}}},
  {"data": {"name": "p6l"}, "transform": [{"filter": "datum.serie === 'Erdöl, Erdgas'"}], "mark": "line", "encoding": {
    "x": {"field": "zeit", "type": "quantitative", "scale": {"domain": [1978.75, 1982.75], "nice": false, "zero": false}, "axis": {"orient": "bottom", "values": [1979, 1979.25, 1979.5, 1979.75, 1980, 1980.25, 1980.5, 1980.75, 1981, 1981.25, 1981.5, 1981.75, 1982, 1982.25, 1982.5, 1982.75], "tickCount": 40, "labels": false, "tickSize": {"condition": {"test": "datum.value % 1 === 0 || datum.value === 1982.75", "value": -18}, "value": -12}, "title": null}},
    "y": {"field": "wert", "type": "quantitative", "scale": {"domain": [50, 110], "nice": false, "zero": false}, "axis": {"values": [50, 60, 70, 80, 90, 100, 110], "tickCount": 40, "labelOverlap": false, "tickSize": -9, "labelPadding": 16, "title": null}},
    "strokeDash": {"field": "reihe", "type": "nominal", "scale": {"domain": ["Einfuhr", "Indikatoren"], "range": [[1, 0], [2.6, 5.2]]}}
  }},
  {"data": {"name": "p6l"}, "transform": [{"filter": "datum.serie === 'Mineralölerzeugnisse'"}], "mark": {"type": "line", "strokeDash": [14, 7]}, "encoding": {
    "x": {"field": "zeit", "type": "quantitative", "axis": {"orient": "bottom", "values": [1979, 1980, 1981, 1982], "tickCount": 40, "labels": false, "domain": false, "tickSize": 30, "title": null}},
    "y": {"field": "wert", "type": "quantitative"}
  }},
  {"data": {"values": [{}]}, "mark": {"type": "text", "text": ""}, "encoding": {
    "x": {"datum": 1980, "axis": {"orient": "bottom", "values": [1978.78, 1979.5, 1980.5, 1981.5, 1982.375], "tickCount": 40, "ticks": false, "domain": false, "labelExpr": "datum.value < 1979 ? '78' : datum.value < 1980 ? '1979' : datum.value < 1981 ? '1980' : datum.value < 1982 ? '1981' : '1982'", "labelPadding": 15, "labelFontSize": 17, "title": null}},
    "y": {"datum": 100}}},
  {"data": {"values": [{}]}, "mark": {"type": "text", "align": "left", "text": "Erdöl, Erdgas ⁵⁾"}, "encoding": {"x": {"datum": 1979.99, "axis": null}, "y": {"datum": 110.8}}},
  {"data": {"values": [{}]}, "mark": {"type": "rule", "strokeWidth": 1.2}, "encoding": {"x": {"datum": 1981.23, "axis": null}, "y": {"datum": 106.7}, "x2": {"datum": 1980.99}, "y2": {"datum": 92.8}}},
  {"data": {"values": [{}]}, "mark": {"type": "text", "align": "left", "text": "Mineralöl–"}, "encoding": {"x": {"datum": 1978.905, "axis": null}, "y": {"datum": 68.0}}},
  {"data": {"values": [{}]}, "mark": {"type": "text", "align": "left", "text": "erzeugnisse⁵⁾"}, "encoding": {"x": {"datum": 1978.905, "axis": null}, "y": {"datum": 60.8}}},
  {"data": {"values": [{}]}, "mark": {"type": "rule", "strokeWidth": 1.2}, "encoding": {"x": {"datum": 1979.93, "axis": null}, "y": {"datum": 81.4}, "x2": {"datum": 1979.78}, "y2": {"datum": 72.1}}}
 ]},
 {"width": 226, "height": 192, "resolve": {"axis": {"x": "independent"}}, "layer": [
  {"data": {"values": [{}]}, "mark": "rule", "encoding": {"y": {"datum": 100}}},
  {"data": {"name": "p6r"}, "transform": [{"filter": "datum.serie === 'Erdöl, Erdgas'"}], "mark": "line", "encoding": {
    "x": {"field": "zeit", "type": "quantitative", "scale": {"domain": [1973.75, 1977.25], "nice": false, "zero": false}, "axis": {"orient": "bottom", "values": [1974, 1974.25, 1974.5, 1974.75, 1975, 1975.25, 1975.5, 1975.75, 1976, 1976.25, 1976.5, 1976.75, 1977, 1977.25], "tickCount": 40, "labels": false, "tickSize": {"condition": {"test": "datum.value % 1 === 0 || datum.value === 1977.25", "value": -18}, "value": -12}, "title": null}},
    "y": {"field": "wert", "type": "quantitative", "scale": {"domain": [50, 110], "nice": false, "zero": false}, "axis": {"values": [50, 60, 70, 80, 90, 100, 110], "tickCount": 40, "labels": false, "tickSize": -9, "title": null}},
    "strokeDash": {"field": "reihe", "type": "nominal", "scale": {"domain": ["Einfuhr", "Indikatoren"], "range": [[1, 0], [2.6, 5.2]]}}
  }},
  {"data": {"name": "p6r"}, "transform": [{"filter": "datum.serie === 'Mineralölerzeugnisse'"}], "mark": {"type": "line", "strokeDash": [14, 7]}, "encoding": {
    "x": {"field": "zeit", "type": "quantitative", "axis": {"orient": "bottom", "values": [1974, 1975, 1976, 1977], "tickCount": 40, "labels": false, "domain": false, "tickSize": 30, "title": null}},
    "y": {"field": "wert", "type": "quantitative"}
  }},
  {"data": {"values": [{}]}, "mark": {"type": "text", "text": ""}, "encoding": {
    "x": {"datum": 1975, "axis": {"orient": "bottom", "values": [1973.87, 1974.5, 1975.5, 1976.5, 1977.18], "tickCount": 40, "ticks": false, "domain": false, "labelExpr": "datum.value < 1974 ? '73' : datum.value < 1975 ? '1974' : datum.value < 1976 ? '1975' : datum.value < 1977 ? '1976' : '77'", "labelPadding": 15, "labelFontSize": 17, "title": null}},
    "y": {"datum": 100}}}
 ]},
 {"width": 28, "height": 160, "data": {"values": [{}]}, "layer": [
  {"mark": {"type": "text", "align": "left", "baseline": "alphabetic", "fontStyle": "italic", "fontSize": 17.5, "lineHeight": 20.25, "text": ["¹⁾Spezialhandel.— ²⁾Saisonbereinigt nach dem Berliner", "Verfahren.— ³⁾Ab IV/1978 ohne Luft- und Raumfahrzeu-", "ge.— ⁴⁾Ohne Erdöl, Erdgas und Mineralölerzeugnisse.—", "⁵⁾Nach dem Warenverzeichnis der Industriestatistik ab-", "gegrenzte Erzeugnisse."]},
   "encoding": {"x": {"datum": 0, "scale": {"domain": [0, 1], "range": [0, 590]}, "axis": null}, "y": {"datum": 13.7, "scale": {"domain": [0, 160], "range": [0, 160]}, "axis": null}}},
  {"mark": {"type": "text", "align": "left", "baseline": "alphabetic", "fontSize": 17.5, "lineHeight": 17, "text": ["Quellen : Statistisches Bundesamt, Berechnungen des", "DIW."]},
   "encoding": {"x": {"datum": 0, "axis": null}, "y": {"datum": 118.7, "axis": null}}},
  {"mark": {"type": "text", "align": "right", "baseline": "alphabetic", "fontSize": 17.5, "text": "DIW 82"},
   "encoding": {"x": {"datum": 1, "axis": null}, "y": {"datum": 149.4, "axis": null}}}
 ]}
],
"config": {
 "view": {"stroke": null},
 "font": "DejaVu Sans Mono",
 "axis": {"domainColor": "#645c5f", "domainWidth": 1.6, "tickColor": "#645c5f", "tickWidth": 1.5, "labelColor": "#645c5f", "titleColor": "#645c5f", "labelFont": "DejaVu Sans Mono", "titleFont": "DejaVu Sans Mono", "labelFontSize": 15, "titleFontSize": 16, "titleFontWeight": "normal", "grid": false, "labelFlush": false, "labelOverlap": false},
 "line": {"color": "#6a6265", "strokeWidth": 3.6, "strokeCap": "butt", "strokeJoin": "round"},
 "rule": {"color": "#645c5f", "strokeWidth": 1.3},
 "text": {"color": "#645c5f", "font": "DejaVu Sans Mono", "fontSize": 19.5}
}
}
